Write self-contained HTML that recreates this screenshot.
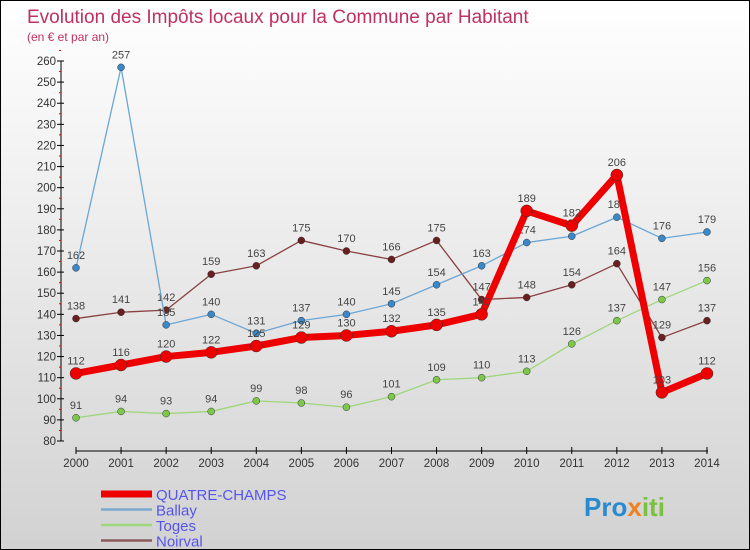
<!DOCTYPE html>
<html><head><meta charset="utf-8"><style>
body{margin:0}
#c{position:relative;width:748px;height:548px;border:1px solid #000;background:linear-gradient(#ffffff,#f2f2f2 30%,#d2d2d2);font-family:"Liberation Sans",sans-serif;overflow:hidden}
</style></head><body>
<div id="c">
<svg id="s" width="748" height="548" xmlns="http://www.w3.org/2000/svg"></svg>
</div>
<script>
const years=[2000,2001,2002,2003,2004,2005,2006,2007,2008,2009,2010,2011,2012,2013,2014];
const quatre=[112,116,120,122,125,129,130,132,135,140,189,182,206,103,112];
const ballay=[162,257,135,140,131,137,140,145,154,163,174,177,186,176,179];
const toges=[91,94,93,94,99,98,96,101,109,110,113,126,137,147,156];
const noirval=[138,141,142,159,163,175,170,166,175,147,148,154,164,129,137];
const yTicks=[80,90,100,110,120,130,140,150,160,170,180,190,200,210,220,230,240,250,260];
const NS='http://www.w3.org/2000/svg';
const s=document.getElementById('s');
function X(i){return 75+i*45.07;}
function Y(v){return 60+(260-v)*380/180;}
function el(t,a,p){const e=document.createElementNS(NS,t);for(const k in a)e.setAttribute(k,a[k]);(p||s).appendChild(e);return e;}
let t=el('text',{x:26,y:22,'font-size':19,fill:'#c03060'});t.textContent='Evolution des Impôts locaux pour la Commune par Habitant';

t=el('text',{x:26,y:40,'font-size':12,fill:'#c03060'});t.textContent='(en € et par an)';

// axes
let ax=el('line',{x1:60,y1:60,x2:60,y2:440,stroke:'#000','stroke-width':1});

yTicks.forEach(v=>{el('line',{x1:56,x2:63,y1:Y(v),y2:Y(v),stroke:'#000'});
 el('line',{x1:58,x2:60,y1:Y(v+5),y2:Y(v+5),stroke:'#e00'});
 const l=el('text',{x:55,y:Y(v)+4,'font-size':11.5,fill:'#333','text-anchor':'end'});l.textContent=v;
 });
ax=el('line',{x1:75,y1:450,x2:707,y2:450,stroke:'#000'});

years.forEach((y,i)=>{el('line',{x1:X(i),x2:X(i),y1:446,y2:453,stroke:'#000'});
 const l=el('text',{x:X(i),y:466,'font-size':11.5,fill:'#333','text-anchor':'middle'});l.textContent=y;
 });
function series(d,col,dot,w,r,name){
 const g=el('g',{});
 el('polyline',{points:d.map((v,i)=>X(i)+','+Y(v)).join(' '),fill:'none',stroke:col,'stroke-width':w,'stroke-linejoin':'round'},g);
 d.forEach((v,i)=>{const c=el('circle',{cx:X(i),cy:Y(v),r:r,fill:dot,stroke:'#333','stroke-width':0.5},g);
  
  const l=el('text',{x:X(i),y:Y(v)-9,'font-size':11,fill:'#444','text-anchor':'middle'},g);l.textContent=v;});
}
series(toges,'#9ed67a','#7dc84a',1.3,3.5,'series-toges');
series(noirval,'#8a4040','#6a1f1f',1.3,3.5,'series-noirval');
series(ballay,'#6aa6d6','#3a88c8',1.3,3.5,'series-ballay');
series(quatre,'#ee0000','#ee0000',7,6,'series-quatre-champs');
// legend
const leg=[['QUATRE-CHAMPS','#ee0000',7],['Ballay','#7aaad0',2.5],['Toges','#9ed67a',2.5],['Noirval','#8a5a5a',2.5]];
leg.forEach((e,i)=>{const y=493+i*15.5;
 const g=el('g',{});
 el('line',{x1:100,x2:151,y1:y,y2:y,stroke:e[1],'stroke-width':e[2]},g);
 const l=el('text',{x:155,y:y+6,'font-size':15,fill:'#5555ee'},g);l.textContent=e[0];});
// logo
const lg=el('text',{x:583,y:515,'font-size':26,'font-weight':'bold',fill:'#2a8ad0'});

[['Pro','#2a8ad0'],['x','#f08020'],['iti','#7cc040']].forEach(p=>{const ts=el('tspan',{fill:p[1]},lg);ts.textContent=p[0];});
</script>
</body></html>
